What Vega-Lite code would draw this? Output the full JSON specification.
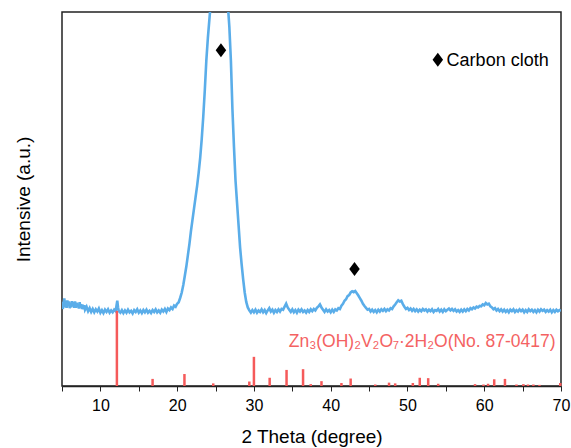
{
  "$schema": "https://vega.github.io/schema/vega-lite/v6.json",
  "width": 499,
  "height": 374,
  "autosize": {"type": "none"},
  "padding": {"left": 62, "top": 12, "right": 10, "bottom": 62},
  "background": "white",
  "config": {
    "font": "Liberation Sans",
    "view": {"stroke": "#222", "strokeWidth": 1.5},
    "axis": {"grid": false}
  },
  "datasets": {
    "xrd": [
      {"t":5.0,"v":22.5},{"t":5.1,"v":20.6},{"t":5.2,"v":21.8},{"t":5.3,"v":23.4},{"t":5.4,"v":21.0},{"t":5.5,"v":22.8},{"t":5.6,"v":20.9},{"t":5.7,"v":22.9},{"t":5.8,"v":21.4},{"t":5.9,"v":22.6},{"t":6.0,"v":20.8},{"t":6.1,"v":22.2},{"t":6.2,"v":21.0},{"t":6.3,"v":22.7},{"t":6.4,"v":21.3},{"t":6.5,"v":22.4},{"t":6.6,"v":20.9},{"t":6.7,"v":22.6},{"t":6.8,"v":20.9},{"t":6.9,"v":22.3},{"t":7.0,"v":21.1},{"t":7.1,"v":22.0},{"t":7.2,"v":20.7},{"t":7.3,"v":22.4},{"t":7.4,"v":21.0},{"t":7.5,"v":21.9},{"t":7.6,"v":20.6},{"t":7.7,"v":21.7},{"t":7.8,"v":20.5},{"t":7.9,"v":21.6},{"t":8.0,"v":20.4},
      {"t":8.2,"v":21.2},{"t":8.4,"v":20.0},{"t":8.6,"v":20.8},{"t":8.8,"v":19.8},{"t":9.0,"v":20.6},{"t":9.2,"v":19.7},{"t":9.4,"v":20.5},{"t":9.6,"v":19.9},{"t":9.8,"v":20.7},{"t":10.0,"v":19.6},{"t":10.2,"v":20.3},{"t":10.4,"v":19.5},{"t":10.6,"v":20.4},{"t":10.8,"v":19.8},{"t":11.0,"v":20.5},{"t":11.2,"v":19.6},{"t":11.4,"v":20.2},{"t":11.6,"v":19.7},{"t":11.8,"v":20.4},{"t":12.0,"v":20.0},{"t":12.1,"v":21.5},{"t":12.2,"v":22.8},{"t":12.3,"v":21.0},{"t":12.4,"v":20.0},{"t":12.6,"v":19.6},{"t":12.8,"v":20.3},{"t":13.0,"v":19.5},{"t":13.2,"v":20.2},{"t":13.4,"v":19.6},{"t":13.6,"v":20.4},{"t":13.8,"v":19.7},{"t":14.0,"v":20.1},{"t":14.2,"v":19.4},{"t":14.4,"v":20.3},{"t":14.6,"v":19.8},{"t":14.8,"v":20.5},{"t":15.0,"v":19.6},{"t":15.2,"v":20.2},{"t":15.4,"v":19.5},{"t":15.6,"v":20.3},{"t":15.8,"v":19.7},{"t":16.0,"v":20.4},{"t":16.2,"v":19.6},{"t":16.4,"v":20.1},{"t":16.6,"v":19.5},{"t":16.8,"v":20.3},{"t":17.0,"v":19.8},{"t":17.2,"v":20.5},{"t":17.4,"v":19.7},{"t":17.6,"v":20.2},{"t":17.8,"v":19.6},{"t":18.0,"v":20.4},{"t":18.2,"v":19.9},{"t":18.4,"v":20.6},{"t":18.6,"v":19.8},{"t":18.8,"v":20.7},{"t":19.0,"v":20.3},{"t":19.2,"v":21.0},{"t":19.4,"v":20.6},{"t":19.6,"v":21.5},{"t":19.8,"v":21.2},{"t":20.0,"v":22.0},{"t":20.2,"v":22.4},{"t":20.4,"v":23.6},{"t":20.6,"v":25.0},{"t":20.8,"v":27.0},{"t":21.0,"v":29.5},{"t":21.2,"v":32.0},{"t":21.4,"v":35.0},{"t":21.6,"v":38.0},{"t":21.8,"v":41.5},{"t":22.0,"v":44.5},{"t":22.2,"v":47.5},{"t":22.4,"v":50.5},{"t":22.6,"v":53.5},{"t":22.8,"v":57.0},{"t":23.0,"v":61.0},{"t":23.2,"v":66.0},{"t":23.4,"v":72.0},{"t":23.6,"v":79.0},{"t":23.8,"v":87.0},{"t":24.0,"v":93.0},{"t":24.2,"v":98.0},{"t":24.4,"v":103},{"t":24.8,"v":112},{"t":25.2,"v":118},{"t":25.5,"v":120},{"t":25.8,"v":119},{"t":26.2,"v":113},{"t":26.6,"v":102},{"t":26.8,"v":96},{"t":27.0,"v":87},{"t":27.2,"v":74},{"t":27.4,"v":64},{"t":27.6,"v":55},{"t":27.8,"v":49},{"t":28.0,"v":43},{"t":28.2,"v":37},{"t":28.4,"v":32.5},{"t":28.6,"v":28.5},{"t":28.8,"v":25.0},{"t":29.0,"v":22.5},{"t":29.2,"v":21.0},{"t":29.4,"v":20.2},{"t":29.6,"v":19.6},
      {"t":29.8,"v":20.3},{"t":30.0,"v":19.7},{"t":30.2,"v":20.4},{"t":30.4,"v":19.6},{"t":30.6,"v":20.2},{"t":30.8,"v":19.8},{"t":31.0,"v":20.5},{"t":31.2,"v":19.7},{"t":31.4,"v":20.3},{"t":31.6,"v":19.5},{"t":31.8,"v":20.2},{"t":32.0,"v":20.8},{"t":32.2,"v":19.9},{"t":32.4,"v":20.4},{"t":32.6,"v":19.6},{"t":32.8,"v":20.3},{"t":33.0,"v":19.8},{"t":33.2,"v":20.5},{"t":33.4,"v":19.9},{"t":33.6,"v":20.6},{"t":33.8,"v":20.4},{"t":34.0,"v":21.2},{"t":34.2,"v":22.0},{"t":34.4,"v":21.0},{"t":34.6,"v":20.4},{"t":34.8,"v":19.8},{"t":35.0,"v":20.5},{"t":35.2,"v":19.7},{"t":35.4,"v":20.3},{"t":35.6,"v":19.6},{"t":35.8,"v":20.4},{"t":36.0,"v":19.9},{"t":36.2,"v":20.5},{"t":36.4,"v":19.8},{"t":36.6,"v":20.2},{"t":36.8,"v":19.6},{"t":37.0,"v":20.3},{"t":37.2,"v":19.8},{"t":37.4,"v":20.5},{"t":37.6,"v":20.0},{"t":37.8,"v":20.6},{"t":38.0,"v":20.2},{"t":38.2,"v":20.9},{"t":38.4,"v":21.3},{"t":38.6,"v":21.8},{"t":38.8,"v":21.0},{"t":39.0,"v":20.4},{"t":39.2,"v":19.8},{"t":39.4,"v":20.5},{"t":39.6,"v":19.9},{"t":39.8,"v":20.3},{"t":40.0,"v":19.7},{"t":40.2,"v":20.4},{"t":40.4,"v":19.8},{"t":40.6,"v":20.5},{"t":40.8,"v":20.2},{"t":41.0,"v":20.8},{"t":41.2,"v":20.6},{"t":41.4,"v":21.5},{"t":41.6,"v":22.0},{"t":41.8,"v":22.8},{"t":42.0,"v":23.2},{"t":42.2,"v":24.0},{"t":42.4,"v":24.3},{"t":42.6,"v":25.0},{"t":42.8,"v":25.3},{"t":43.0,"v":25.1},{"t":43.2,"v":25.4},{"t":43.4,"v":24.8},{"t":43.6,"v":24.2},{"t":43.8,"v":23.5},{"t":44.0,"v":22.8},{"t":44.2,"v":22.0},{"t":44.4,"v":21.4},{"t":44.6,"v":20.9},{"t":44.8,"v":20.4},{"t":45.0,"v":20.6},{"t":45.2,"v":19.9},{"t":45.4,"v":20.4},{"t":45.6,"v":19.8},{"t":45.8,"v":20.3},{"t":46.0,"v":19.7},{"t":46.2,"v":20.4},{"t":46.4,"v":19.9},{"t":46.6,"v":20.5},{"t":46.8,"v":20.1},{"t":47.0,"v":20.6},{"t":47.2,"v":20.0},{"t":47.4,"v":20.5},{"t":47.6,"v":20.2},{"t":47.8,"v":20.8},{"t":48.0,"v":20.6},{"t":48.2,"v":21.3},{"t":48.4,"v":21.8},{"t":48.6,"v":22.4},{"t":48.8,"v":22.9},{"t":49.0,"v":22.6},{"t":49.2,"v":22.8},{"t":49.4,"v":21.9},{"t":49.6,"v":21.2},{"t":49.8,"v":20.6},{"t":50.0,"v":20.9},{"t":50.2,"v":20.3},{"t":50.4,"v":20.7},{"t":50.6,"v":20.1},{"t":50.8,"v":20.6},{"t":51.0,"v":20.0},{"t":51.2,"v":20.5},{"t":51.4,"v":19.9},{"t":51.6,"v":20.4},{"t":51.8,"v":20.0},{"t":52.0,"v":20.6},{"t":52.2,"v":20.2},{"t":52.4,"v":20.5},{"t":52.6,"v":19.9},{"t":52.8,"v":20.4},{"t":53.0,"v":20.0},{"t":53.2,"v":20.5},{"t":53.4,"v":19.8},{"t":53.6,"v":20.3},{"t":53.8,"v":20.1},{"t":54.0,"v":20.6},{"t":54.2,"v":19.9},{"t":54.4,"v":20.4},{"t":54.6,"v":19.8},{"t":54.8,"v":20.5},{"t":55.0,"v":20.0},{"t":55.2,"v":20.4},{"t":55.4,"v":20.7},{"t":55.6,"v":20.2},{"t":55.8,"v":20.6},{"t":56.0,"v":20.1},{"t":56.2,"v":20.5},{"t":56.4,"v":19.9},{"t":56.6,"v":20.3},{"t":56.8,"v":19.8},{"t":57.0,"v":20.4},{"t":57.2,"v":19.9},{"t":57.4,"v":20.5},{"t":57.6,"v":20.0},{"t":57.8,"v":20.6},{"t":58.0,"v":20.2},{"t":58.2,"v":20.8},{"t":58.4,"v":20.5},{"t":58.6,"v":21.0},{"t":58.8,"v":20.7},{"t":59.0,"v":21.2},{"t":59.2,"v":21.0},{"t":59.4,"v":21.4},{"t":59.6,"v":21.3},{"t":59.8,"v":21.8},{"t":60.0,"v":21.6},{"t":60.2,"v":22.2},{"t":60.4,"v":21.8},{"t":60.6,"v":22.0},{"t":60.8,"v":21.3},{"t":61.0,"v":21.0},{"t":61.2,"v":20.5},{"t":61.4,"v":20.8},{"t":61.6,"v":20.2},{"t":61.8,"v":20.6},{"t":62.0,"v":20.0},{"t":62.2,"v":20.5},{"t":62.4,"v":19.9},{"t":62.6,"v":20.4},{"t":62.8,"v":19.8},{"t":63.0,"v":20.3},{"t":63.2,"v":19.7},{"t":63.4,"v":20.4},{"t":63.6,"v":20.0},{"t":63.8,"v":20.5},{"t":64.0,"v":19.8},{"t":64.2,"v":20.3},{"t":64.4,"v":19.9},{"t":64.6,"v":20.5},{"t":64.8,"v":20.0},{"t":65.0,"v":20.4},{"t":65.2,"v":19.7},{"t":65.4,"v":20.3},{"t":65.6,"v":19.8},{"t":65.8,"v":20.5},{"t":66.0,"v":20.0},{"t":66.2,"v":20.4},{"t":66.4,"v":19.8},{"t":66.6,"v":20.3},{"t":66.8,"v":19.7},{"t":67.0,"v":20.4},{"t":67.2,"v":19.9},{"t":67.4,"v":20.5},{"t":67.6,"v":20.1},{"t":67.8,"v":20.4},{"t":68.0,"v":19.8},{"t":68.2,"v":20.3},{"t":68.4,"v":19.9},{"t":68.6,"v":20.4},{"t":68.8,"v":19.7},{"t":69.0,"v":20.3},{"t":69.2,"v":19.8},{"t":69.4,"v":20.4},{"t":69.6,"v":20.0},{"t":69.8,"v":20.3},{"t":70.0,"v":20.1}
    ],
    "ref": [
      {"t":12.15,"h":20.1},{"t":16.8,"h":1.9},{"t":20.95,"h":3.2},{"t":24.7,"h":0.7},{"t":29.4,"h":1.2},{"t":30.0,"h":7.8},{"t":32.05,"h":2.2},{"t":34.25,"h":4.3},{"t":36.4,"h":4.5},{"t":37.4,"h":0.5},{"t":38.8,"h":1.3},{"t":41.4,"h":0.8},{"t":42.6,"h":2.0},{"t":45.8,"h":0.4},{"t":47.6,"h":0.9},{"t":48.4,"h":0.7},{"t":50.7,"h":0.8},{"t":51.6,"h":2.2},{"t":52.7,"h":2.1},{"t":54.0,"h":0.6},{"t":58.8,"h":0.5},{"t":59.9,"h":0.4},{"t":60.5,"h":0.6},{"t":61.3,"h":1.8},{"t":62.7,"h":1.9},{"t":64.2,"h":0.4},{"t":65.1,"h":0.5},{"t":65.7,"h":0.4},{"t":66.4,"h":0.4},{"t":67.2,"h":0.3},{"t":69.9,"h":0.8}
    ],
    "marks": [
      {"t":25.7,"v":89.8},{"t":43.1,"v":31.3},{"t":53.95,"v":87.2}
    ],
    "legendText": [
      {"t":55.1,"v":85.6,"label":"Carbon cloth"}
    ],
    "refText": [
      {"t":69.3,"v":10.4,"label":"Zn₃(OH)₂V₂O₇·2H₂O(No. 87-0417)"}
    ]
  },
  "layer": [
    {
      "data": {"name": "xrd"},
      "mark": {"type": "line", "clip": true, "stroke": "#5aade9", "strokeWidth": 2.6},
      "encoding": {
        "x": {"field": "t", "type": "quantitative",
          "scale": {"domain": [5, 70], "nice": false, "zero": false},
          "axis": {"title": "2 Theta (degree)", "values": [5,10,15,20,25,30,35,40,45,50,55,60,65,70],
            "tickCount": 100, "format": "d",
            "labelExpr": "datum.value % 10 === 0 ? datum.label : ''",
            "labelFontSize": 16, "labelColor": "#000", "labelPadding": 6, "labelFlush": false, "labelOverlap": false,
            "tickSize": 5, "tickColor": "#222", "domainColor": "#222", "domainWidth": 1.5,
            "titleFontSize": 19, "titleFontWeight": "normal", "titleColor": "#000", "titlePadding": 14}},
        "y": {"field": "v", "type": "quantitative",
          "scale": {"domain": [0, 100], "nice": false},
          "axis": {"title": "Intensive (a.u.)", "labels": false, "ticks": false, "domain": false,
            "titleFontSize": 19, "titleFontWeight": "normal", "titleColor": "#000", "titlePadding": 29}}
      }
    },
    {
      "data": {"name": "ref"},
      "mark": {"type": "rule", "stroke": "#f55a5a", "strokeWidth": 2.5},
      "encoding": {
        "x": {"field": "t", "type": "quantitative"},
        "y": {"field": "h", "type": "quantitative"},
        "y2": {"datum": 0}
      }
    },
    {
      "data": {"name": "marks"},
      "mark": {"type": "point", "shape": "M0,-1L0.75,0L0,1L-0.75,0Z", "filled": true, "fill": "#000", "opacity": 1, "size": 196, "strokeWidth": 0},
      "encoding": {
        "x": {"field": "t", "type": "quantitative"},
        "y": {"field": "v", "type": "quantitative"}
      }
    },
    {
      "data": {"name": "legendText"},
      "mark": {"type": "text", "align": "left", "baseline": "alphabetic", "fontSize": 18, "fill": "#000"},
      "encoding": {
        "x": {"field": "t", "type": "quantitative"},
        "y": {"field": "v", "type": "quantitative"},
        "text": {"field": "label"}
      }
    },
    {
      "data": {"name": "refText"},
      "mark": {"type": "text", "align": "right", "baseline": "alphabetic", "fontSize": 17.5, "fill": "#f46262"},
      "encoding": {
        "x": {"field": "t", "type": "quantitative"},
        "y": {"field": "v", "type": "quantitative"},
        "text": {"field": "label"}
      }
    }
  ]
}
